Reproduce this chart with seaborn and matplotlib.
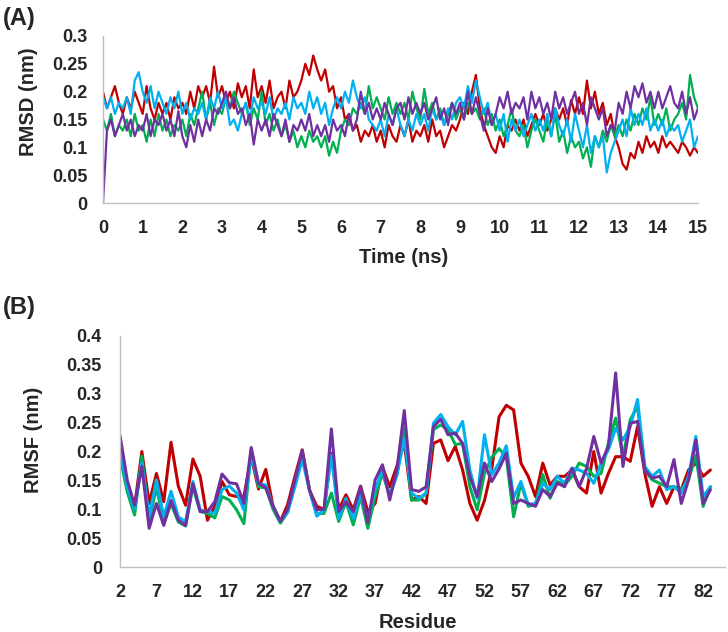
import numpy as np
import pandas as pd
import matplotlib
matplotlib.use('Agg')
import matplotlib.pyplot as plt
import seaborn as sns

# Style
sns.set_style('white')
plt.rcParams['font.family'] = ['Liberation Sans', 'DejaVu Sans']
plt.rcParams['font.weight'] = 'bold'
plt.rcParams['axes.labelweight'] = 'bold'

# ---- data ----
series_names = ['run1', 'run2', 'run3', 'run4']
line_colors = ['#C00000', '#00B050', '#00B0F0', '#7030A0']

# (A) RMSD, every 0.1 ns from 0 to 15 ns
time_ns = np.round(np.arange(151) * 0.1, 1)

rmsd_red = [
    0.20, 0.17, 0.19, 0.21, 0.18, 0.16, 0.19, 0.17, 0.20, 0.18,
    0.16, 0.21, 0.17, 0.15, 0.18, 0.16, 0.18, 0.15, 0.19, 0.17,
    0.18, 0.16, 0.20, 0.17, 0.21, 0.19, 0.21, 0.18, 0.245, 0.19,
    0.21, 0.18, 0.20, 0.17, 0.215, 0.19, 0.21, 0.17, 0.24, 0.19,
    0.21, 0.18, 0.22, 0.17, 0.19, 0.20, 0.17, 0.22, 0.19, 0.20,
    0.22, 0.25, 0.23, 0.265, 0.24, 0.22, 0.24, 0.20, 0.21, 0.17,
    0.19, 0.15, 0.16, 0.13, 0.14, 0.11, 0.13, 0.12, 0.14, 0.11,
    0.13, 0.10, 0.14, 0.12, 0.11, 0.14, 0.12, 0.15, 0.11, 0.13,
    0.12, 0.14, 0.11, 0.15, 0.12, 0.13, 0.10, 0.12, 0.14, 0.13,
    0.15, 0.18, 0.16, 0.20, 0.23, 0.17, 0.14, 0.12, 0.10, 0.09,
    0.12, 0.10, 0.14, 0.13, 0.15, 0.13, 0.15, 0.12, 0.14, 0.16,
    0.14, 0.16, 0.13, 0.15, 0.17, 0.15, 0.17, 0.14, 0.185, 0.16,
    0.19, 0.16, 0.22, 0.17, 0.20, 0.16, 0.18, 0.14, 0.16, 0.12,
    0.10, 0.07, 0.06, 0.09, 0.08, 0.11, 0.09, 0.12, 0.10, 0.11,
    0.09, 0.12, 0.10, 0.11, 0.10, 0.09, 0.11, 0.10, 0.085, 0.10,
    0.09]

rmsd_green = [
    0.15, 0.13, 0.16, 0.12, 0.14, 0.13, 0.15, 0.12, 0.16, 0.13,
    0.14, 0.11, 0.15, 0.12, 0.16, 0.13, 0.15, 0.12, 0.14, 0.13,
    0.15, 0.12, 0.16, 0.14, 0.17, 0.20, 0.15, 0.18, 0.14, 0.17,
    0.16, 0.19, 0.17, 0.20, 0.18, 0.16, 0.18, 0.14, 0.17, 0.15,
    0.20, 0.14, 0.16, 0.13, 0.15, 0.12, 0.14, 0.11, 0.13, 0.10,
    0.12, 0.10, 0.13, 0.11, 0.12, 0.10, 0.12, 0.085, 0.11, 0.09,
    0.13, 0.15, 0.14, 0.17, 0.16, 0.18, 0.16, 0.21, 0.17, 0.19,
    0.17, 0.15, 0.19, 0.16, 0.18, 0.16, 0.18, 0.15, 0.20, 0.17,
    0.15, 0.205, 0.16, 0.18, 0.15, 0.17, 0.14, 0.16, 0.18, 0.15,
    0.17, 0.15, 0.18, 0.16, 0.17, 0.15, 0.17, 0.14, 0.16, 0.13,
    0.15, 0.12, 0.14, 0.17, 0.13, 0.12, 0.14, 0.10, 0.13, 0.15,
    0.13, 0.11, 0.15, 0.12, 0.16, 0.11, 0.13, 0.09, 0.12, 0.10,
    0.11, 0.08, 0.10, 0.065, 0.12, 0.10, 0.13, 0.11, 0.14, 0.12,
    0.14, 0.12, 0.15, 0.13, 0.16, 0.14, 0.17, 0.15, 0.19, 0.14,
    0.16, 0.14, 0.17, 0.13, 0.15, 0.16, 0.18, 0.15, 0.23, 0.19,
    0.17]

rmsd_cyan = [
    0.19, 0.17, 0.19, 0.16, 0.18, 0.17, 0.19, 0.16, 0.22, 0.235,
    0.20, 0.18, 0.21, 0.17, 0.20, 0.18, 0.16, 0.19, 0.17, 0.20,
    0.16, 0.18, 0.15, 0.17, 0.16, 0.18, 0.15, 0.19, 0.17, 0.20,
    0.17, 0.19, 0.14, 0.15, 0.13, 0.16, 0.18, 0.15, 0.19, 0.17,
    0.18, 0.16, 0.19, 0.15, 0.17, 0.16, 0.18, 0.15, 0.19, 0.17,
    0.18, 0.16, 0.20, 0.17, 0.19, 0.16, 0.18, 0.14, 0.17, 0.19,
    0.17, 0.20, 0.18, 0.22, 0.19, 0.17, 0.19, 0.15, 0.14, 0.13,
    0.15, 0.12, 0.16, 0.14, 0.17, 0.14, 0.12, 0.15, 0.13, 0.16,
    0.14, 0.16, 0.13, 0.17, 0.15, 0.16, 0.14, 0.17, 0.15, 0.18,
    0.19, 0.17, 0.21, 0.18, 0.22, 0.19, 0.16, 0.18, 0.14, 0.16,
    0.13, 0.16, 0.11, 0.15, 0.13, 0.15, 0.12, 0.14, 0.16, 0.13,
    0.15, 0.13, 0.16, 0.12, 0.17, 0.14, 0.12, 0.15, 0.11, 0.16,
    0.13, 0.10, 0.14, 0.09, 0.12, 0.10, 0.12, 0.055, 0.09, 0.11,
    0.13, 0.15, 0.12, 0.17, 0.14, 0.16, 0.14, 0.17, 0.13, 0.15,
    0.13, 0.15, 0.12, 0.14, 0.13, 0.14, 0.11, 0.13, 0.15, 0.10,
    0.12]

rmsd_purple = [
    0.00, 0.13, 0.15, 0.12, 0.14, 0.16, 0.13, 0.15, 0.12, 0.14,
    0.13, 0.16, 0.12, 0.15, 0.14, 0.16, 0.13, 0.15, 0.12, 0.165,
    0.12, 0.10, 0.14, 0.11, 0.15, 0.12, 0.15, 0.13, 0.17, 0.16,
    0.18, 0.20, 0.17, 0.19, 0.16, 0.17, 0.14, 0.16, 0.105, 0.15,
    0.13, 0.15, 0.12, 0.16, 0.14, 0.12, 0.15, 0.11, 0.14, 0.13,
    0.15, 0.13, 0.16, 0.12, 0.14, 0.12, 0.14, 0.11, 0.15, 0.13,
    0.14, 0.12, 0.16, 0.13, 0.15, 0.20, 0.16, 0.18, 0.15, 0.17,
    0.15, 0.18, 0.16, 0.14, 0.17, 0.18, 0.15, 0.19, 0.16, 0.18,
    0.16, 0.18, 0.15, 0.17, 0.19, 0.15, 0.17, 0.14, 0.18, 0.16,
    0.18, 0.15, 0.20, 0.16, 0.19, 0.16, 0.13, 0.17, 0.14, 0.16,
    0.19, 0.17, 0.20, 0.16, 0.18, 0.17, 0.19, 0.15, 0.20, 0.17,
    0.19, 0.16, 0.18, 0.15, 0.20, 0.17, 0.19, 0.16, 0.18, 0.20,
    0.16, 0.18, 0.14, 0.19, 0.17, 0.15, 0.17, 0.12, 0.14, 0.13,
    0.18, 0.16, 0.20, 0.17, 0.21, 0.19, 0.215, 0.18, 0.20, 0.17,
    0.20, 0.17, 0.19, 0.21, 0.18, 0.17, 0.20, 0.16, 0.19, 0.15,
    0.17]

# (B) RMSF per residue 2..83
residues = np.arange(2, 84)

rmsf_red = [
    0.21, 0.14, 0.105, 0.20, 0.11, 0.162, 0.113, 0.216, 0.14, 0.107,
    0.187, 0.157, 0.081, 0.105, 0.148, 0.125, 0.122, 0.122, 0.191, 0.135,
    0.169, 0.105, 0.079, 0.108, 0.157, 0.203, 0.133, 0.105, 0.10, 0.197,
    0.099, 0.125, 0.099, 0.14, 0.096, 0.11, 0.174, 0.139, 0.175, 0.215,
    0.116, 0.122, 0.11, 0.214, 0.22, 0.184, 0.209, 0.168, 0.11, 0.081,
    0.115, 0.17, 0.26, 0.28, 0.272, 0.18, 0.157, 0.122, 0.18, 0.142,
    0.157, 0.157, 0.168, 0.139, 0.128, 0.20, 0.128, 0.162, 0.191, 0.191,
    0.183, 0.243, 0.162, 0.105, 0.139, 0.11, 0.139, 0.134, 0.168, 0.18,
    0.157, 0.168]

rmsf_green = [
    0.19, 0.13, 0.09, 0.192, 0.078, 0.139, 0.075, 0.11, 0.078, 0.071,
    0.139, 0.096, 0.093, 0.085, 0.122, 0.116, 0.099, 0.075, 0.202, 0.139,
    0.137, 0.10, 0.076, 0.095, 0.145, 0.194, 0.133, 0.092, 0.093, 0.128,
    0.079, 0.113, 0.073, 0.122, 0.067, 0.122, 0.162, 0.125, 0.16, 0.24,
    0.116, 0.116, 0.128, 0.238, 0.246, 0.238, 0.212, 0.214, 0.139, 0.099,
    0.162, 0.19, 0.205, 0.19, 0.087, 0.145, 0.105, 0.108, 0.16, 0.119,
    0.148, 0.142, 0.157, 0.18, 0.174, 0.157, 0.162, 0.214, 0.258, 0.191,
    0.255, 0.278, 0.168, 0.151, 0.145, 0.139, 0.139, 0.134, 0.151, 0.194,
    0.105, 0.139]

rmsf_cyan = [
    0.20, 0.14, 0.10, 0.18, 0.087, 0.151, 0.087, 0.131, 0.087, 0.078,
    0.148, 0.099, 0.096, 0.093, 0.134, 0.14, 0.128, 0.099, 0.194, 0.144,
    0.142, 0.105, 0.079, 0.095, 0.139, 0.186, 0.133, 0.088, 0.099, 0.194,
    0.084, 0.119, 0.084, 0.128, 0.081, 0.134, 0.168, 0.122, 0.16, 0.223,
    0.128, 0.119, 0.128, 0.249, 0.264, 0.243, 0.229, 0.252, 0.168, 0.119,
    0.229, 0.16, 0.18, 0.21, 0.12, 0.148, 0.108, 0.11, 0.145, 0.134,
    0.157, 0.145, 0.171, 0.168, 0.162, 0.145, 0.18, 0.203, 0.24, 0.22,
    0.243, 0.29, 0.174, 0.157, 0.168, 0.134, 0.139, 0.128, 0.157, 0.226,
    0.122, 0.139]

rmsf_purple = [
    0.228, 0.15, 0.107, 0.174, 0.067, 0.11, 0.072, 0.115, 0.081, 0.072,
    0.144, 0.096, 0.096, 0.113, 0.161, 0.146, 0.144, 0.11, 0.207, 0.145,
    0.137, 0.105, 0.079, 0.10, 0.151, 0.202, 0.133, 0.099, 0.10, 0.239,
    0.096, 0.113, 0.096, 0.139, 0.077, 0.151, 0.177, 0.116, 0.17, 0.271,
    0.134, 0.131, 0.139, 0.243, 0.256, 0.229, 0.232, 0.214, 0.157, 0.122,
    0.18, 0.148, 0.17, 0.197, 0.11, 0.116, 0.11, 0.105, 0.134, 0.122,
    0.145, 0.139, 0.171, 0.139, 0.17, 0.226, 0.18, 0.209, 0.336, 0.174,
    0.249, 0.252, 0.168, 0.154, 0.157, 0.139, 0.186, 0.11, 0.151, 0.22,
    0.11, 0.134]

rmsd_ticks = [0, 0.05, 0.1, 0.15, 0.2, 0.25, 0.3]
rmsf_ticks = [0, 0.05, 0.1, 0.15, 0.2, 0.25, 0.3, 0.35, 0.4]
time_ticks = list(range(0, 16))
residue_ticks = list(range(2, 83, 5))

# ---- long tables ----
palette = dict(zip(series_names, line_colors))
df_a = pd.DataFrame({
    'time': np.tile(time_ns, 4),
    'rmsd': np.concatenate([rmsd_red, rmsd_green, rmsd_cyan, rmsd_purple]),
    'run': np.repeat(series_names, len(time_ns)),
})
df_b = pd.DataFrame({
    'residue': np.tile(residues, 4),
    'rmsf': np.concatenate([rmsf_red, rmsf_green, rmsf_cyan, rmsf_purple]),
    'run': np.repeat(series_names, len(residues)),
})

W, H = 728, 632
fig = plt.figure(figsize=(W / 100, H / 100), dpi=100)
ax_a = fig.add_axes([103 / W, (H - 203) / H, 595 / W, 167 / H])
ax_b = fig.add_axes([120 / W, (H - 567) / H, 605 / W, 231 / H])

sns.lineplot(data=df_a, x='time', y='rmsd', hue='run', palette=palette,
             estimator=None, sort=False, linewidth=1.6, legend=False, ax=ax_a)
sns.lineplot(data=df_b, x='residue', y='rmsf', hue='run', palette=palette,
             estimator=None, sort=False, linewidth=2.2, legend=False, ax=ax_b,
             solid_joinstyle='round', solid_capstyle='round')

axis_gray = '#BFBFBF'
for ax in (ax_a, ax_b):
    ax.spines['top'].set_visible(False)
    ax.spines['right'].set_visible(False)
    for s in ('left', 'bottom'):
        ax.spines[s].set_color(axis_gray)
        ax.spines[s].set_linewidth(1.0)

# panel A axes
ax_a.set_xlim(0, 15)
ax_a.set_ylim(0, 0.3)
ax_a.set_xticks(time_ticks, [str(t) for t in time_ticks])
ax_a.set_yticks(rmsd_ticks, [f'{v:g}' for v in rmsd_ticks])
ax_a.tick_params(axis='x', direction='in', length=5, width=1, color=axis_gray,
                 pad=12, labelsize=13)
ax_a.tick_params(axis='y', length=0, pad=11, labelsize=13)
ax_a.set_xlabel('Time (ns)', fontsize=14.5, fontweight='bold')
ax_a.set_ylabel('RMSD (nm)', fontsize=14.5, fontweight='bold')
ax_a.xaxis.set_label_coords(0.506, -0.27)
ax_a.yaxis.set_label_coords(-0.109, 0.605)

# panel B axes
ax_b.set_xlim(2, 85)
ax_b.set_ylim(0, 0.4)
ax_b.set_xticks(residue_ticks, [str(r) for r in residue_ticks])
ax_b.set_yticks(rmsf_ticks, [f'{v:g}' for v in rmsf_ticks])
ax_b.tick_params(axis='x', direction='in', length=5, width=1, color=axis_gray,
                 pad=12, labelsize=13)
ax_b.tick_params(axis='y', direction='in', length=5, width=1, color=axis_gray,
                 pad=13, labelsize=13)
ax_b.set_xlabel('Residue', fontsize=14.5, fontweight='bold')
ax_b.set_ylabel('RMSF (nm)', fontsize=14.5, fontweight='bold')
ax_b.xaxis.set_label_coords(0.493, -0.2)
ax_b.yaxis.set_label_coords(-0.127, 0.55)

fig.text(3 / W, 1 - 19 / H, '(A)', fontsize=17, fontweight='bold', va='center', ha='left')
fig.text(3 / W, 1 - 308 / H, '(B)', fontsize=17, fontweight='bold', va='center', ha='left')

fig.savefig('out.png', dpi=100)
